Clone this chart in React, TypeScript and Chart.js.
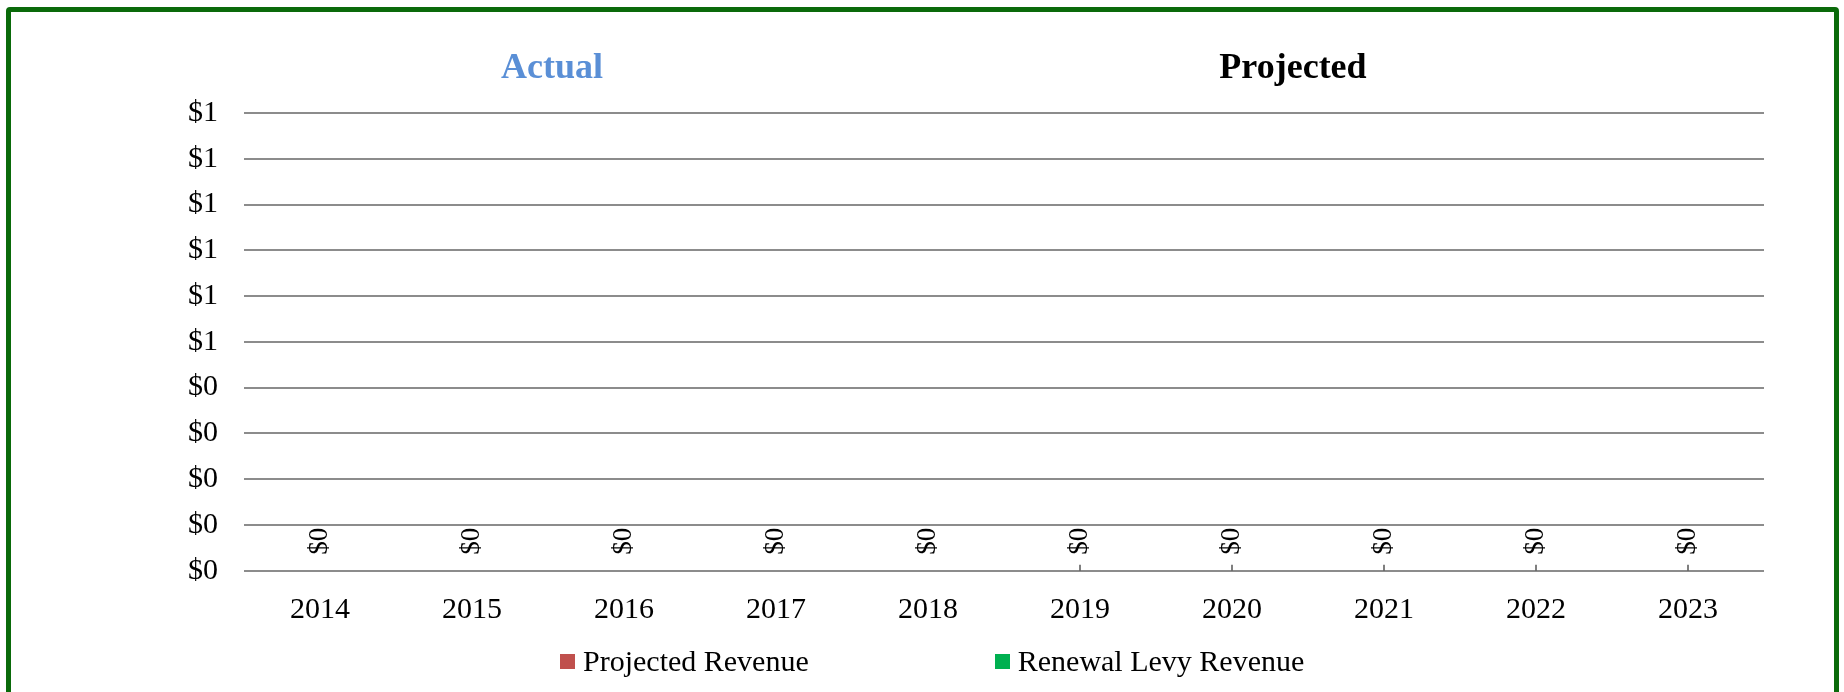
import React, { useEffect, useRef } from 'react';
import { Chart, registerables } from 'chart.js';

Chart.register(...registerables);

const years = ['2014', '2015', '2016', '2017', '2018', '2019', '2020', '2021', '2022', '2023'];
const projectedRevenue = [0, 0, 0, 0, 0, 0, 0, 0, 0, 0];
const renewalLevyRevenue = [0, 0, 0, 0, 0, 0, 0, 0, 0, 0];
const seriesLabels = ['Projected Revenue', 'Renewal Levy Revenue'];
const seriesColors = ['#c0504d', '#00b050'];
const yMin = 0;
const yMax = 1;
const yStep = 0.1;
const markedYears = ['2019', '2020', '2021', '2022', '2023'];
const sectionTitles = ['Actual', 'Projected'];

const FONT = '"Liberation Serif", "Times New Roman", serif';

const fmt = (v: number) => '$' + Math.round(v);

const labelPlugin = {
  id: 'zeroLabels',
  afterDatasetsDraw(chart: any) {
    const { ctx } = chart;
    const xs = chart.scales.x;
    const ys = chart.scales.y;
    const zero = ys.getPixelForValue(0);
    ctx.save();
    ctx.strokeStyle = '#555';
    ctx.lineWidth = 1.5;
    years.forEach((yr, i) => {
      if (markedYears.includes(yr)) {
        const x = xs.getPixelForValue(i);
        ctx.beginPath();
        ctx.moveTo(x, zero);
        ctx.lineTo(x, zero - 6);
        ctx.stroke();
      }
    });
    const lastMeta = chart.getDatasetMeta(chart.data.datasets.length - 1);
    ctx.fillStyle = '#000';
    ctx.font = `27px ${FONT}`;
    ctx.textAlign = 'left';
    ctx.textBaseline = 'middle';
    lastMeta.data.forEach((bar: any, i: number) => {
      const total = projectedRevenue[i] + renewalLevyRevenue[i];
      ctx.save();
      ctx.translate(bar.x, ys.getPixelForValue(total) - 16);
      ctx.rotate(-Math.PI / 2);
      ctx.fillText(fmt(total), 0, 0);
      ctx.restore();
    });
    ctx.restore();
  },
};

export default function App() {
  const ref = useRef<HTMLCanvasElement | null>(null);

  useEffect(() => {
    if (!ref.current) return;
    const chart = new Chart(ref.current, {
      type: 'bar',
      data: {
        labels: years,
        datasets: [
          { label: seriesLabels[0], data: projectedRevenue, backgroundColor: seriesColors[0] },
          { label: seriesLabels[1], data: renewalLevyRevenue, backgroundColor: seriesColors[1] },
        ],
      },
      options: {
        responsive: false,
        animation: false,
        color: '#000',
        layout: { padding: { left: 0, right: 80, top: 113, bottom: 0 } },
        plugins: {
          legend: { display: false },
          title: { display: false },
          tooltip: { enabled: false },
        },
        scales: {
          x: {
            stacked: true,
            grid: { display: false, drawTicks: false },
            border: { display: false },
            ticks: { color: '#000', font: { family: FONT, size: 30 }, padding: 21, maxRotation: 0 },
            afterFit: (s: any) => {
              s.height = 121.3;
            },
          },
          y: {
            stacked: true,
            min: yMin,
            max: yMax,
            grid: { color: '#8c8c8c', lineWidth: 2, drawTicks: false },
            border: { display: false },
            ticks: {
              stepSize: yStep,
              color: '#000',
              font: { family: FONT, size: 30 },
              padding: 26,
              callback: (v: any) => fmt(Number(v)),
            },
            afterFit: (s: any) => {
              s.width = 244;
            },
          },
        },
      },
      plugins: [labelPlugin],
    });
    return () => chart.destroy();
  }, []);

  const titleStyle: React.CSSProperties = {
    position: 'absolute',
    top: 48,
    transform: 'translateX(-50%)',
    fontFamily: FONT,
    fontWeight: 'bold',
    fontSize: 36,
    lineHeight: '36px',
    whiteSpace: 'nowrap',
  };

  return (
    <div style={{ position: 'fixed', left: 0, top: 0, width: 1844, height: 692, background: '#fff', overflow: 'hidden' }}>
      <div
        style={{
          position: 'absolute',
          left: 6,
          top: 7,
          width: 1833,
          height: 690,
          boxSizing: 'border-box',
          border: '5px solid #0a6a0a',
          borderRadius: 4,
        }}
      />
      <canvas ref={ref} width={1844} height={692} style={{ position: 'absolute', left: 0, top: 0, width: 1844, height: 692 }} />
      <div style={{ ...titleStyle, left: 552, color: '#5a8fd6' }}>{sectionTitles[0]}</div>
      <div style={{ ...titleStyle, left: 1293, color: '#000' }}>{sectionTitles[1]}</div>
      <div
        style={{
          position: 'absolute',
          left: 560,
          top: 646,
          height: 30,
          display: 'flex',
          alignItems: 'center',
          gap: 186,
          fontFamily: FONT,
          fontSize: 30,
          lineHeight: '30px',
          color: '#000',
          whiteSpace: 'nowrap',
        }}
      >
        {seriesLabels.map((lab, i) => (
          <div key={lab} style={{ display: 'flex', alignItems: 'center' }}>
            <span style={{ display: 'inline-block', width: 15, height: 15, background: seriesColors[i], marginRight: 8 }} />
            <span>{lab}</span>
          </div>
        ))}
      </div>
    </div>
  );
}
